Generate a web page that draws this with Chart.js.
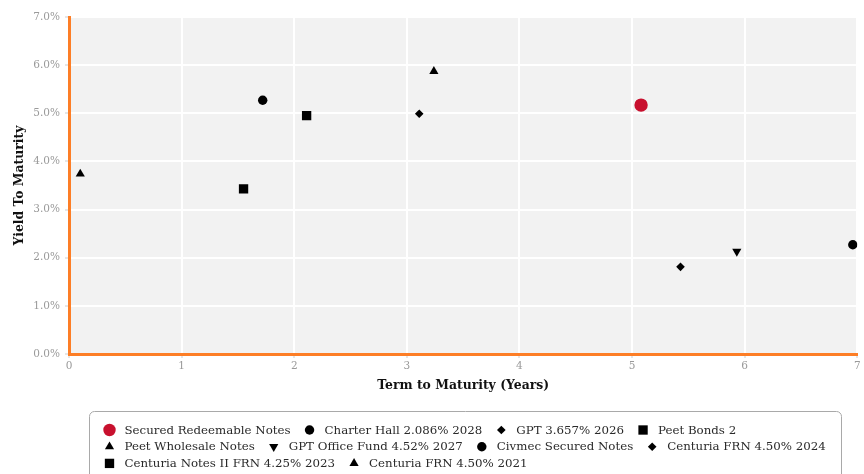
<!DOCTYPE html>
<html>
<head>
<meta charset="utf-8">
<title>Yield To Maturity vs Term</title>
<script src="https://cdn.jsdelivr.net/npm/chart.js@4.4.0/dist/chart.umd.min.js"></script>
<style>
  html, body { margin: 0; padding: 0; background: #fff; }
  #wrap { width: 864px; height: 474px; overflow: hidden; }
</style>
</head>
<body>
<div id="wrap"><canvas id="ytmChart" width="864" height="474"></canvas></div>
<script>
  // values
  const seriesNames = [
    'Secured Redeemable Notes',
    'Charter Hall 2.086% 2028',
    'GPT 3.657% 2026',
    'Peet Bonds 2',
    'Peet Wholesale Notes',
    'GPT Office Fund 4.52% 2027',
    'Civmec Secured Notes',
    'Centuria FRN 4.50% 2024',
    'Centuria Notes II FRN 4.25% 2023',
    'Centuria FRN 4.50% 2021'
  ];
  const termYears = [5.08, 6.96, 5.43, 2.11, 3.24, 5.93, 1.72, 3.11, 1.55, 0.10];
  const yieldPct = [5.17, 2.27, 1.81, 4.95, 5.87, 2.13, 5.27, 4.99, 3.43, 3.74];
  const xTicks = [0, 1, 2, 3, 4, 5, 6, 7];
  const yTicks = [0, 1, 2, 3, 4, 5, 6, 7];

  const ORANGE = '#fd7e26';
  const FONT = '"DejaVu Serif", "Liberation Serif", serif';

  // marker look for each series, same order as seriesNames
  const markerStyles = [
    { shape: 'circle', radius: 6.7, color: '#c8102e', rotation: 0 },
    { shape: 'circle', radius: 4.7, color: '#000', rotation: 0 },
    { shape: 'rectRot', radius: 4.3, color: '#000', rotation: 0 },
    { shape: 'rect', radius: 6.6, color: '#000', rotation: 0 },
    { shape: 'triangle', radius: 5.3, color: '#000', rotation: 0 },
    { shape: 'triangle', radius: 5.3, color: '#000', rotation: 180 },
    { shape: 'circle', radius: 4.7, color: '#000', rotation: 0 },
    { shape: 'rectRot', radius: 4.3, color: '#000', rotation: 0 },
    { shape: 'rect', radius: 6.6, color: '#000', rotation: 0 },
    { shape: 'triangle', radius: 5.3, color: '#000', rotation: 0 }
  ];

  const datasets = seriesNames.map((name, i) => {
    const st = markerStyles[i];
    return {
      label: name,
      data: [{ x: termYears[i], y: yieldPct[i] }],
      pointStyle: st.shape,
      pointRadius: st.radius,
      pointHoverRadius: st.radius,
      pointRotation: st.rotation,
      pointBackgroundColor: st.color,
      pointBorderWidth: 0,
      backgroundColor: st.color,
      borderColor: st.color
    };
  });

  const plotBackground = {
    id: 'plotBackground',
    beforeDraw(chart) {
      const { ctx, chartArea: a } = chart;
      ctx.save();
      ctx.fillStyle = '#f2f2f2';
      ctx.fillRect(a.left, a.top, a.right - a.left, a.bottom - a.top);
      ctx.restore();
    }
  };

  // boxed legend under the plot, rows start at the left of the box
  const boxedLegend = {
    id: 'boxedLegend',
    afterDraw(chart) {
      const ctx = chart.ctx;
      const box = { left: 89.5, top: 411.5, right: 841.5, bottom: 484 };
      ctx.save();
      ctx.beginPath();
      ctx.roundRect(box.left, box.top, box.right - box.left, box.bottom - box.top, 5);
      ctx.strokeStyle = '#a9a9a9';
      ctx.lineWidth = 1;
      ctx.stroke();

      ctx.font = '11.8px ' + FONT;
      ctx.textBaseline = 'middle';
      ctx.textAlign = 'left';
      const startX = box.left + 15;
      let x = startX;
      let y = 430;
      chart.data.datasets.forEach((ds) => {
        const textW = ctx.measureText(ds.label).width;
        const itemW = 20 + textW;
        if (x !== startX && x + itemW > box.right - 6) {
          x = startX;
          y += 16.7;
        }
        ctx.fillStyle = ds.pointBackgroundColor;
        Chart.helpers.drawPoint(ctx, {
          pointStyle: ds.pointStyle,
          rotation: ds.pointRotation,
          radius: ds.pointStyle === 'circle' && ds.pointRadius > 6 ? 6.2 : ds.pointRadius,
          borderWidth: 0
        }, x + 5, y);
        ctx.fillStyle = '#2a2a2a';
        ctx.fillText(ds.label, x + 20, y + 0.5);
        x += itemW + 14;
      });
      ctx.restore();
    }
  };

  new Chart(document.getElementById('ytmChart'), {
    type: 'scatter',
    data: { datasets },
    options: {
      responsive: false,
      animation: false,
      devicePixelRatio: 1,
      layout: { padding: { top: 17, left: 0, right: 6, bottom: 70 } },
      plugins: {
        legend: { display: false },
        tooltip: { enabled: false }
      },
      scales: {
        x: {
          type: 'linear',
          min: xTicks[0],
          max: xTicks[xTicks.length - 1],
          afterBuildTicks: (scale) => { scale.ticks = xTicks.map((v) => ({ value: v })); },
          afterFit: (scale) => { scale.height = 50; },
          grid: { color: '#ffffff', lineWidth: 2, tickLength: 4, tickColor: '#e6e6e6' },
          border: { color: ORANGE, width: 3 },
          ticks: {
            padding: 2,
            color: '#9a9a9a',
            font: { family: FONT, size: 10.5 },
            callback: (v) => String(v)
          },
          title: {
            display: true,
            text: 'Term to Maturity (Years)',
            color: '#111',
            font: { family: FONT, size: 12.4, weight: 'bold' },
            padding: { top: 0, bottom: 11 }
          }
        },
        y: {
          type: 'linear',
          min: yTicks[0],
          max: yTicks[yTicks.length - 1],
          afterBuildTicks: (scale) => { scale.ticks = yTicks.map((v) => ({ value: v })); },
          afterFit: (scale) => { scale.width = 69; },
          grid: { color: '#ffffff', lineWidth: 2, tickLength: 4, tickColor: '#e6e6e6' },
          border: { color: ORANGE, width: 3 },
          ticks: {
            padding: 5,
            color: '#9a9a9a',
            font: { family: FONT, size: 10.5 },
            callback: (v) => v.toFixed(1) + '%'
          },
          title: {
            display: true,
            text: 'Yield To Maturity',
            color: '#111',
            font: { family: FONT, size: 12.4, weight: 'bold' },
            padding: { top: 12, bottom: 0 }
          }
        }
      }
    },
    plugins: [plotBackground, boxedLegend]
  });
</script>
</body>
</html>
